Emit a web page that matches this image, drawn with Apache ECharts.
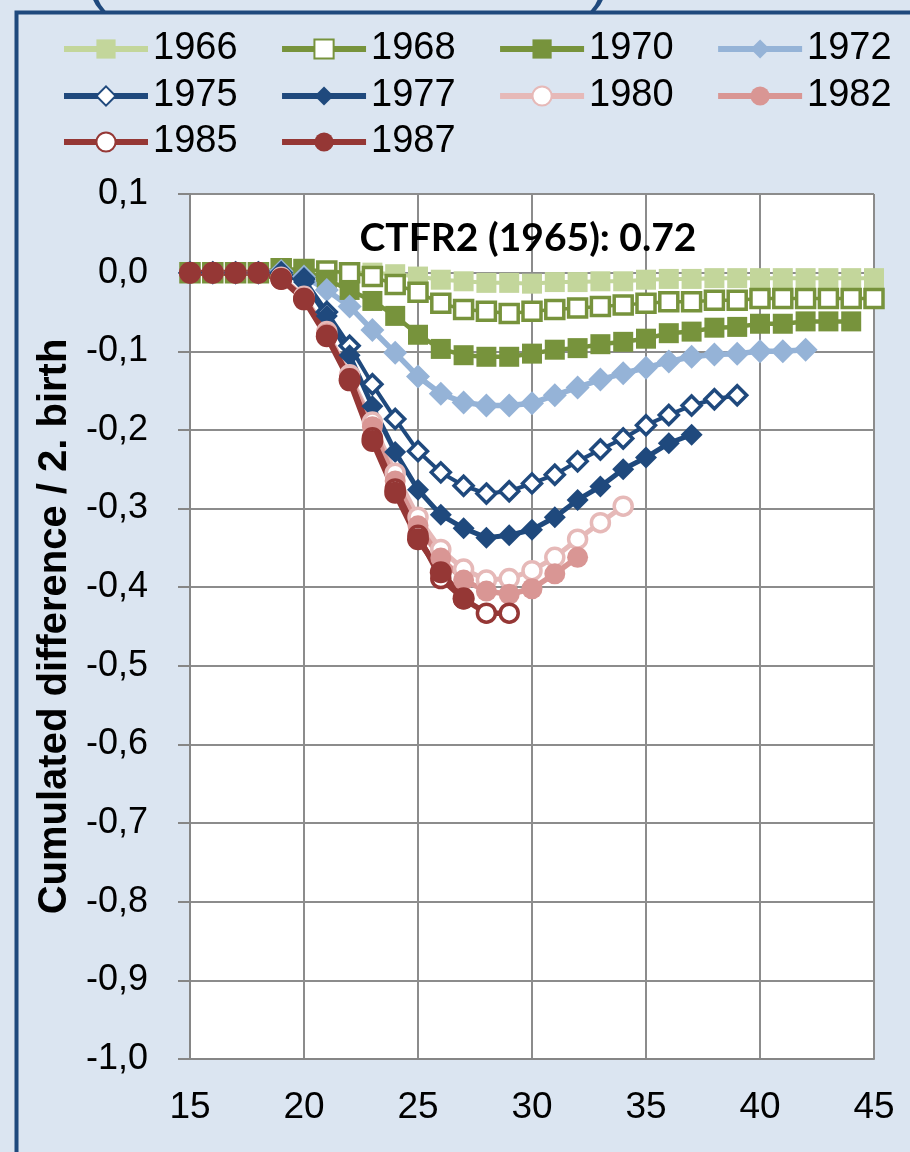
<!DOCTYPE html>
<html><head><meta charset="utf-8">
<script src="https://cdn.jsdelivr.net/npm/echarts@6/dist/echarts.min.js"></script>
<style>html,body{margin:0;padding:0;background:#dbe5f1;overflow:hidden;} #c{width:910px;height:1152px;}</style>
</head><body><div id="c"></div><script>
// ---- data ----
const ages = [15,16,17,18,19,20,21,22,23,24,25,26,27,28,29,30,31,32,33,34,35,36,37,38,39,40,41,42,43,44,45];
const seriesNames = ['1966','1968','1970','1972','1975','1977','1980','1982','1985','1987'];
const v1966 = [0,0,0,0,0.003,0.002,0.001,0,0,-0.002,-0.005,-0.009,-0.011,-0.013,-0.013,-0.014,-0.012,-0.012,-0.011,-0.011,-0.009,-0.008,-0.008,-0.007,-0.007,-0.007,-0.007,-0.007,-0.007,-0.007,-0.007];
const v1968 = [0,0,0,0,0.005,0.004,0.002,0,-0.005,-0.015,-0.025,-0.039,-0.047,-0.049,-0.052,-0.049,-0.047,-0.045,-0.043,-0.041,-0.039,-0.037,-0.037,-0.035,-0.035,-0.033,-0.033,-0.033,-0.033,-0.033,-0.033];
const v1970 = [0,0,0,0,0.005,0.002,-0.009,-0.022,-0.036,-0.055,-0.079,-0.097,-0.105,-0.107,-0.107,-0.103,-0.098,-0.096,-0.091,-0.088,-0.084,-0.077,-0.075,-0.070,-0.069,-0.065,-0.065,-0.062,-0.062,-0.062];
const v1972 = [0,0,0,0,0.002,-0.005,-0.022,-0.043,-0.073,-0.102,-0.132,-0.154,-0.165,-0.169,-0.169,-0.166,-0.156,-0.146,-0.136,-0.128,-0.121,-0.113,-0.107,-0.104,-0.103,-0.100,-0.100,-0.098];
const v1975 = [0,0,0,0,0,-0.008,-0.050,-0.093,-0.142,-0.186,-0.227,-0.254,-0.271,-0.281,-0.278,-0.268,-0.257,-0.240,-0.225,-0.211,-0.194,-0.181,-0.169,-0.161,-0.156];
const v1977 = [0,0,0,0,0,-0.012,-0.055,-0.105,-0.170,-0.228,-0.276,-0.308,-0.325,-0.337,-0.334,-0.327,-0.311,-0.289,-0.272,-0.250,-0.235,-0.217,-0.206];
const v1980 = [0,0,0,0,-0.006,-0.030,-0.075,-0.130,-0.190,-0.255,-0.311,-0.352,-0.377,-0.391,-0.389,-0.379,-0.362,-0.339,-0.318,-0.297];
const v1982 = [0,0,0,0,-0.007,-0.032,-0.078,-0.134,-0.196,-0.265,-0.322,-0.363,-0.391,-0.405,-0.409,-0.402,-0.383,-0.362];
const v1985 = [0,0,0,0,-0.008,-0.033,-0.080,-0.135,-0.210,-0.275,-0.334,-0.389,-0.415,-0.433,-0.433];
const v1987 = [0,0,0,0,-0.008,-0.034,-0.081,-0.137,-0.214,-0.280,-0.339,-0.381,-0.414];
const seriesValues = [v1966,v1968,v1970,v1972,v1975,v1977,v1980,v1982,v1985,v1987];
const xTicks = {min:15, max:45, interval:5};
const yTicks = {min:-1.0, max:0.1, interval:0.1};
const annotation = 'CTFR2 (1965): 0.72';
const yAxisTitle = 'Cumulated difference / 2. birth';

// ---- styles ----
const styles = [
  {color:'#c3d69b', symbol:'rect',    filled:true,  size:20, lw:4},
  {color:'#77933c', symbol:'rect',    filled:false, size:18, lw:3.5},
  {color:'#77933c', symbol:'rect',    filled:true,  size:20, lw:4.5},
  {color:'#95b3d7', symbol:'diamond', filled:true,  size:24, lw:5.5},
  {color:'#1f497d', symbol:'diamond', filled:false, size:19, lw:4},
  {color:'#1f497d', symbol:'diamond', filled:true,  size:22, lw:5},
  {color:'#e6b9b8', symbol:'circle',  filled:false, size:18, lw:5},
  {color:'#d99694', symbol:'circle',  filled:true,  size:21, lw:5.5},
  {color:'#953735', symbol:'circle',  filled:false, size:18, lw:5.5},
  {color:'#953735', symbol:'circle',  filled:true,  size:22, lw:6}
];

const series = seriesNames.map((name, si) => {
  const st = styles[si];
  return {
    name: name,
    type: 'line',
    data: seriesValues[si].map((v, i) => [ages[i], v]),
    symbol: st.symbol,
    symbolSize: st.size,
    showAllSymbol: true,
    animation: false,
    lineStyle: {color: st.color, width: st.lw},
    itemStyle: st.filled ? {color: st.color, borderWidth: 0} : {color: '#ffffff', borderColor: st.color, borderWidth: 3.5},
    emphasis: {disabled: true}
  };
});

function mkLegend(names, top) {
  return {
    data: names, left: 61, top: top, padding: 0, orient: 'horizontal',
    itemWidth: 84, itemHeight: 24, itemGap: 41.5,
    selectedMode: false,
    lineStyle: {width: 6},
    textStyle: {fontFamily: 'Liberation Sans', fontSize: 38, color: '#000', lineHeight: 40}
  };
}

const fmtY = v => (Math.round(v * 10) / 10).toFixed(1).replace('.', ',');

const chart = echarts.init(document.getElementById('c'), null, {renderer: 'canvas'});
chart.setOption({
  backgroundColor: '#dbe5f1',
  animation: false,
  legend: [
    mkLegend(seriesNames.slice(0,4), 29),
    mkLegend(seriesNames.slice(4,8), 76),
    mkLegend(seriesNames.slice(8,10), 122)
  ],
  grid: {left: 190, right: 36, top: 194, bottom: 93, containLabel: false, show: true, backgroundColor: '#ffffff', borderWidth: 0},
  xAxis: {
    type: 'value', min: xTicks.min, max: xTicks.max, interval: xTicks.interval,
    axisLine: {show: true, onZero: false, lineStyle: {color: '#868686', width: 2}},
    axisTick: {show: false},
    splitLine: {show: true, lineStyle: {color: '#8c8c8c', width: 2}},
    axisLabel: {fontFamily: 'Liberation Sans', fontSize: 37, color: '#000', margin: 30}
  },
  yAxis: {
    type: 'value', min: yTicks.min, max: yTicks.max, interval: yTicks.interval,
    name: yAxisTitle, nameLocation: 'middle', nameGap: 110, nameRotate: 90,
    nameTextStyle: {fontFamily: 'Liberation Sans', fontWeight: 'bold', fontSize: 40, color: '#000'},
    axisLine: {show: true, onZero: false, lineStyle: {color: '#868686', width: 2}},
    axisTick: {show: true, length: 12, lineStyle: {color: '#868686', width: 2}},
    splitLine: {show: true, lineStyle: {color: '#8c8c8c', width: 2}},
    axisLabel: {fontFamily: 'Liberation Sans', fontSize: 36, color: '#000', margin: 42, formatter: fmtY}
  },
  graphic: [
    {type: 'text', x: 86, y: 12, style: {text: '(', font: '60px "Liberation Sans"', fill: '#1f497d', textVerticalAlign: 'bottom'}, z: 99, silent: true},
    {type: 'text', x: 590, y: 12, style: {text: ')', font: '60px "Liberation Sans"', fill: '#1f497d', textVerticalAlign: 'bottom'}, z: 99, silent: true},
    {type: 'rect', left: 14, top: 10, shape: {x: 0, y: 0, width: 940, height: 1200}, style: {fill: 'none', stroke: '#1f497d', lineWidth: 4}, z: 100, silent: true},
    {type: 'text', x: 528, y: 238, style: {text: annotation, font: 'bold 39px Lato', fill: '#000', textAlign: 'center', textVerticalAlign: 'middle'}, z: 100, silent: true}
  ],
  series: series
});
</script></body></html>
